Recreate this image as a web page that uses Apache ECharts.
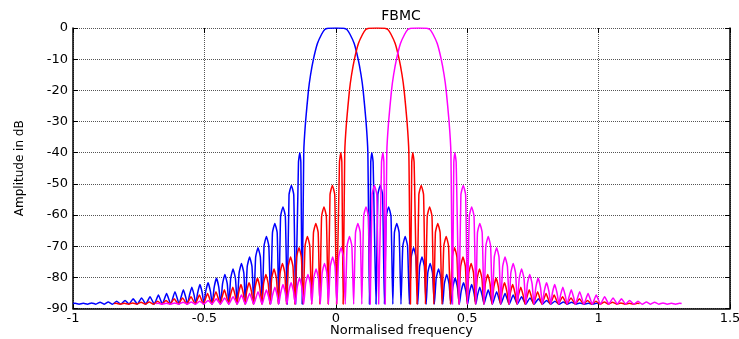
<!DOCTYPE html>
<html>
<head>
<meta charset="utf-8">
<script src="https://cdn.jsdelivr.net/npm/echarts@6/dist/echarts.min.js"></script>
<style>
  html, body { margin: 0; padding: 0; background: #fff; }
  #chart { width: 739px; height: 339px; }
</style>
</head>
<body>
<div id="chart"></div>
<script>
// [normalised frequency, amplitude dB]: dips, shoulders and peaks of each subcarrier
const blueCurve = [
  [-1.000, -88.4], [-0.992, -88.3], [-0.977, -88.6], [-0.961, -88.3], [-0.945, -88.6], [-0.929, -88.2],
  [-0.913, -88.6], [-0.897, -88.0], [-0.882, -88.6], [-0.866, -87.9], [-0.850, -88.6], [-0.834, -87.7],
  [-0.818, -88.6], [-0.802, -87.4], [-0.787, -88.6], [-0.771, -86.9], [-0.755, -88.6], [-0.739, -86.6],
  [-0.723, -88.6], [-0.707, -86.2], [-0.691, -88.6], [-0.675, -85.7], [-0.660, -88.6], [-0.644, -85.2],
  [-0.628, -88.6], [-0.612, -84.6],
  [-0.596, -88.6], [-0.589, -86.4], [-0.580, -84.0], [-0.571, -86.4],
  [-0.564, -88.6], [-0.557, -85.8], [-0.548, -83.2], [-0.539, -85.8],
  [-0.533, -88.6], [-0.526, -85.1], [-0.517, -82.3], [-0.508, -85.1],
  [-0.502, -88.6], [-0.495, -84.5], [-0.486, -81.7], [-0.477, -84.5],
  [-0.470, -88.6], [-0.463, -83.3], [-0.454, -80.3], [-0.445, -83.3],
  [-0.438, -88.6], [-0.431, -82.1], [-0.422, -79.1], [-0.413, -82.1],
  [-0.407, -88.6], [-0.400, -80.3], [-0.391, -77.3], [-0.382, -80.3],
  [-0.375, -88.6], [-0.368, -78.6], [-0.359, -75.6], [-0.350, -78.6],
  [-0.344, -88.6], [-0.337, -76.5], [-0.328, -73.5], [-0.319, -76.5],
  [-0.312, -88.6], [-0.305, -73.5], [-0.296, -70.5], [-0.287, -73.5],
  [-0.280, -88.6], [-0.273, -69.9], [-0.264, -66.9], [-0.255, -69.9],
  [-0.248, -88.6], [-0.241, -65.7], [-0.232, -62.7], [-0.223, -65.7],
  [-0.217, -88.6], [-0.210, -60.4], [-0.201, -57.4], [-0.192, -60.4],
  [-0.185, -88.6], [-0.178, -53.5], [-0.169, -50.5], [-0.160, -53.5],
  [-0.153, -88.6], [-0.142, -43], [-0.137, -40], [-0.133, -43],
  [-0.128, -88.6], [-0.122, -40], [-0.115, -30], [-0.104, -20], [-0.096, -15], [-0.085, -10],
  [-0.070, -5], [-0.054, -2], [-0.042, -0.5], [-0.030, -0.1],
  [0.000, 0],
  [0.030, -0.1], [0.042, -0.5], [0.054, -2], [0.070, -5], [0.085, -10], [0.096, -15],
  [0.104, -20], [0.115, -30], [0.122, -40],
  [0.128, -88.6], [0.133, -43], [0.137, -40], [0.142, -43],
  [0.153, -88.6], [0.160, -53.5], [0.169, -50.5], [0.178, -53.5],
  [0.185, -88.6], [0.192, -60.4], [0.201, -57.4], [0.210, -60.4],
  [0.217, -88.6], [0.223, -65.7], [0.232, -62.7], [0.241, -65.7],
  [0.248, -88.6], [0.255, -69.9], [0.264, -66.9], [0.273, -69.9],
  [0.280, -88.6], [0.287, -73.5], [0.296, -70.5], [0.305, -73.5],
  [0.312, -88.6], [0.319, -76.5], [0.328, -73.5], [0.337, -76.5],
  [0.344, -88.6], [0.350, -78.6], [0.359, -75.6], [0.368, -78.6],
  [0.375, -88.6], [0.382, -80.3], [0.391, -77.3], [0.400, -80.3],
  [0.407, -88.6], [0.413, -82.1], [0.422, -79.1], [0.431, -82.1],
  [0.438, -88.6], [0.445, -83.3], [0.454, -80.3], [0.463, -83.3],
  [0.470, -88.6], [0.477, -84.5], [0.486, -81.7], [0.495, -84.5],
  [0.502, -88.6], [0.508, -85.1], [0.517, -82.3], [0.526, -85.1],
  [0.533, -88.6], [0.539, -85.8], [0.548, -83.2], [0.557, -85.8],
  [0.564, -88.6], [0.571, -86.4], [0.580, -84.0], [0.589, -86.4],
  [0.596, -88.6], [0.612, -84.6], [0.628, -88.6], [0.644, -85.2], [0.660, -88.6], [0.675, -85.7],
  [0.691, -88.6], [0.707, -86.2], [0.723, -88.6], [0.739, -86.6], [0.755, -88.6], [0.771, -86.9],
  [0.787, -88.6], [0.802, -87.4], [0.818, -88.6], [0.834, -87.7], [0.850, -88.6], [0.866, -87.9],
  [0.882, -88.6], [0.897, -88.0], [0.913, -88.6], [0.929, -88.2], [0.945, -88.6], [0.961, -88.3],
  [0.977, -88.6], [0.992, -88.3], [1.000, -88.4]
];

const redCurve = [
  [-0.844, -88.4], [-0.836, -88.3], [-0.821, -88.6], [-0.805, -88.3], [-0.789, -88.6], [-0.773, -88.2],
  [-0.757, -88.6], [-0.741, -88.0], [-0.726, -88.6], [-0.710, -87.9], [-0.694, -88.6], [-0.678, -87.7],
  [-0.662, -88.6], [-0.646, -87.4], [-0.631, -88.6], [-0.615, -86.9], [-0.599, -88.6], [-0.583, -86.6],
  [-0.567, -88.6], [-0.551, -86.2], [-0.535, -88.6], [-0.519, -85.7], [-0.504, -88.6], [-0.488, -85.2],
  [-0.472, -88.6], [-0.456, -84.6],
  [-0.440, -88.6], [-0.433, -86.4], [-0.424, -84.0], [-0.415, -86.4],
  [-0.408, -88.6], [-0.401, -85.8], [-0.392, -83.2], [-0.383, -85.8],
  [-0.377, -88.6], [-0.370, -85.1], [-0.361, -82.3], [-0.352, -85.1],
  [-0.346, -88.6], [-0.339, -84.5], [-0.330, -81.7], [-0.321, -84.5],
  [-0.314, -88.6], [-0.307, -83.3], [-0.298, -80.3], [-0.289, -83.3],
  [-0.282, -88.6], [-0.275, -82.1], [-0.266, -79.1], [-0.257, -82.1],
  [-0.251, -88.6], [-0.244, -80.3], [-0.235, -77.3], [-0.226, -80.3],
  [-0.219, -88.6], [-0.212, -78.6], [-0.203, -75.6], [-0.194, -78.6],
  [-0.188, -88.6], [-0.181, -76.5], [-0.172, -73.5], [-0.163, -76.5],
  [-0.156, -88.6], [-0.149, -73.5], [-0.140, -70.5], [-0.131, -73.5],
  [-0.124, -88.6], [-0.117, -69.9], [-0.108, -66.9], [-0.099, -69.9],
  [-0.092, -88.6], [-0.085, -65.7], [-0.076, -62.7], [-0.067, -65.7],
  [-0.061, -88.6], [-0.054, -60.4], [-0.045, -57.4], [-0.036, -60.4],
  [-0.029, -88.6], [-0.022, -53.5], [-0.013, -50.5], [-0.004, -53.5],
  [0.003, -88.6], [0.014, -43], [0.019, -40], [0.023, -43],
  [0.028, -88.6], [0.034, -40], [0.041, -30], [0.052, -20], [0.060, -15], [0.071, -10],
  [0.086, -5], [0.102, -2], [0.114, -0.5], [0.126, -0.1],
  [0.156, 0],
  [0.186, -0.1], [0.198, -0.5], [0.210, -2], [0.226, -5], [0.241, -10], [0.252, -15],
  [0.260, -20], [0.271, -30], [0.278, -40],
  [0.284, -88.6], [0.289, -43], [0.293, -40], [0.298, -43],
  [0.309, -88.6], [0.316, -53.5], [0.325, -50.5], [0.334, -53.5],
  [0.341, -88.6], [0.348, -60.4], [0.357, -57.4], [0.366, -60.4],
  [0.373, -88.6], [0.379, -65.7], [0.388, -62.7], [0.397, -65.7],
  [0.404, -88.6], [0.411, -69.9], [0.420, -66.9], [0.429, -69.9],
  [0.436, -88.6], [0.443, -73.5], [0.452, -70.5], [0.461, -73.5],
  [0.468, -88.6], [0.475, -76.5], [0.484, -73.5], [0.493, -76.5],
  [0.500, -88.6], [0.506, -78.6], [0.515, -75.6], [0.524, -78.6],
  [0.531, -88.6], [0.538, -80.3], [0.547, -77.3], [0.556, -80.3],
  [0.563, -88.6], [0.569, -82.1], [0.578, -79.1], [0.587, -82.1],
  [0.594, -88.6], [0.601, -83.3], [0.610, -80.3], [0.619, -83.3],
  [0.626, -88.6], [0.633, -84.5], [0.642, -81.7], [0.651, -84.5],
  [0.658, -88.6], [0.664, -85.1], [0.673, -82.3], [0.682, -85.1],
  [0.689, -88.6], [0.695, -85.8], [0.704, -83.2], [0.713, -85.8],
  [0.720, -88.6], [0.727, -86.4], [0.736, -84.0], [0.745, -86.4],
  [0.752, -88.6], [0.768, -84.6], [0.784, -88.6], [0.800, -85.2], [0.816, -88.6], [0.831, -85.7],
  [0.847, -88.6], [0.863, -86.2], [0.879, -88.6], [0.895, -86.6], [0.911, -88.6], [0.927, -86.9],
  [0.943, -88.6], [0.958, -87.4], [0.974, -88.6], [0.990, -87.7], [1.006, -88.6], [1.022, -87.9],
  [1.038, -88.6], [1.053, -88.0], [1.069, -88.6], [1.085, -88.2], [1.101, -88.6], [1.117, -88.3],
  [1.133, -88.6], [1.148, -88.3], [1.156, -88.4]
];

const magentaCurve = [
  [-0.684, -88.4], [-0.676, -88.3], [-0.661, -88.6], [-0.645, -88.3], [-0.629, -88.6], [-0.613, -88.2],
  [-0.597, -88.6], [-0.581, -88.0], [-0.566, -88.6], [-0.550, -87.9], [-0.534, -88.6], [-0.518, -87.7],
  [-0.502, -88.6], [-0.486, -87.4], [-0.471, -88.6], [-0.455, -86.9], [-0.439, -88.6], [-0.423, -86.6],
  [-0.407, -88.6], [-0.391, -86.2], [-0.375, -88.6], [-0.359, -85.7], [-0.344, -88.6], [-0.328, -85.2],
  [-0.312, -88.6], [-0.296, -84.6],
  [-0.280, -88.6], [-0.273, -86.4], [-0.264, -84.0], [-0.255, -86.4],
  [-0.248, -88.6], [-0.241, -85.8], [-0.232, -83.2], [-0.223, -85.8],
  [-0.217, -88.6], [-0.210, -85.1], [-0.201, -82.3], [-0.192, -85.1],
  [-0.186, -88.6], [-0.179, -84.5], [-0.170, -81.7], [-0.161, -84.5],
  [-0.154, -88.6], [-0.147, -83.3], [-0.138, -80.3], [-0.129, -83.3],
  [-0.122, -88.6], [-0.115, -82.1], [-0.106, -79.1], [-0.097, -82.1],
  [-0.091, -88.6], [-0.084, -80.3], [-0.075, -77.3], [-0.066, -80.3],
  [-0.059, -88.6], [-0.052, -78.6], [-0.043, -75.6], [-0.034, -78.6],
  [-0.028, -88.6], [-0.021, -76.5], [-0.012, -73.5], [-0.003, -76.5],
  [0.004, -88.6], [0.011, -73.5], [0.020, -70.5], [0.029, -73.5],
  [0.036, -88.6], [0.043, -69.9], [0.052, -66.9], [0.061, -69.9],
  [0.068, -88.6], [0.075, -65.7], [0.084, -62.7], [0.093, -65.7],
  [0.099, -88.6], [0.106, -60.4], [0.115, -57.4], [0.124, -60.4],
  [0.131, -88.6], [0.138, -53.5], [0.147, -50.5], [0.156, -53.5],
  [0.163, -88.6], [0.174, -43], [0.179, -40], [0.183, -43],
  [0.188, -88.6], [0.194, -40], [0.201, -30], [0.212, -20], [0.220, -15], [0.231, -10],
  [0.246, -5], [0.262, -2], [0.274, -0.5], [0.286, -0.1],
  [0.316, 0],
  [0.346, -0.1], [0.358, -0.5], [0.370, -2], [0.386, -5], [0.401, -10], [0.412, -15],
  [0.420, -20], [0.431, -30], [0.438, -40],
  [0.444, -88.6], [0.449, -43], [0.453, -40], [0.458, -43],
  [0.469, -88.6], [0.476, -53.5], [0.485, -50.5], [0.494, -53.5],
  [0.501, -88.6], [0.508, -60.4], [0.517, -57.4], [0.526, -60.4],
  [0.533, -88.6], [0.539, -65.7], [0.548, -62.7], [0.557, -65.7],
  [0.564, -88.6], [0.571, -69.9], [0.580, -66.9], [0.589, -69.9],
  [0.596, -88.6], [0.603, -73.5], [0.612, -70.5], [0.621, -73.5],
  [0.628, -88.6], [0.635, -76.5], [0.644, -73.5], [0.653, -76.5],
  [0.660, -88.6], [0.666, -78.6], [0.675, -75.6], [0.684, -78.6],
  [0.691, -88.6], [0.698, -80.3], [0.707, -77.3], [0.716, -80.3],
  [0.723, -88.6], [0.729, -82.1], [0.738, -79.1], [0.747, -82.1],
  [0.754, -88.6], [0.761, -83.3], [0.770, -80.3], [0.779, -83.3],
  [0.786, -88.6], [0.793, -84.5], [0.802, -81.7], [0.811, -84.5],
  [0.818, -88.6], [0.824, -85.1], [0.833, -82.3], [0.842, -85.1],
  [0.849, -88.6], [0.855, -85.8], [0.864, -83.2], [0.873, -85.8],
  [0.880, -88.6], [0.887, -86.4], [0.896, -84.0], [0.905, -86.4],
  [0.912, -88.6], [0.928, -84.6], [0.944, -88.6], [0.960, -85.2], [0.976, -88.6], [0.991, -85.7],
  [1.007, -88.6], [1.023, -86.2], [1.039, -88.6], [1.055, -86.6], [1.071, -88.6], [1.087, -86.9],
  [1.103, -88.6], [1.118, -87.4], [1.134, -88.6], [1.150, -87.7], [1.166, -88.6], [1.182, -87.9],
  [1.198, -88.6], [1.213, -88.0], [1.229, -88.6], [1.245, -88.2], [1.261, -88.6], [1.277, -88.3],
  [1.293, -88.6], [1.308, -88.3], [1.316, -88.4]
];

const freqRange = [-1, 1.5];
const dbRange = [-90, 0];

const chart = echarts.init(document.getElementById('chart'), null, { renderer: 'canvas' });

const font = 'DejaVu Sans';
const gridLine = { show: true, lineStyle: { color: '#555', type: 'dotted', width: 1 } };
const tick = { inside: true, length: 5, lineStyle: { color: '#000' } };

function line(name, data, color) {
  return {
    name: name,
    type: 'line',
    data: data,
    showSymbol: false,
    smooth: 0.15,
    lineStyle: { color: color, width: 1.5 },
    itemStyle: { color: color },
    emphasis: { disabled: true },
  };
}

chart.setOption({
  animation: false,
  backgroundColor: '#fff',
  title: {
    text: 'FBMC',
    left: 401,
    top: 9,
    textAlign: 'center',
    padding: 0,
    textStyle: { fontFamily: font, fontSize: 14, fontWeight: 'normal', color: '#000' },
  },
  grid: { left: 73, right: 9, top: 28, bottom: 30.5, containLabel: false, outerBoundsMode: 'none' },
  xAxis: [{
    type: 'value',
    min: freqRange[0],
    max: freqRange[1],
    interval: 0.5,
    name: 'Normalised frequency',
    nameLocation: 'middle',
    nameGap: 16,
    nameMoveOverlap: false,
    nameTextStyle: { fontFamily: font, fontSize: 13, color: '#000' },
    axisLine: { onZero: false, lineStyle: { color: '#000', width: 1.5 } },
    axisTick: tick,
    axisLabel: { fontFamily: font, fontSize: 13, color: '#000', margin: 4 },
    splitLine: gridLine,
  }, {
    type: 'value',
    position: 'top',
    min: freqRange[0],
    max: freqRange[1],
    interval: 0.5,
    axisLine: { show: false, onZero: false },
    axisTick: tick,
    axisLabel: { show: false },
    splitLine: { show: false },
  }],
  yAxis: [{
    type: 'value',
    min: dbRange[0],
    max: dbRange[1],
    interval: 10,
    name: 'Amplitude in dB',
    nameLocation: 'middle',
    nameGap: 47,
    nameTextStyle: { fontFamily: font, fontSize: 12, color: '#000' },
    axisLine: { onZero: false, lineStyle: { color: '#000', width: 1.5 } },
    axisTick: tick,
    axisLabel: { fontFamily: font, fontSize: 13, color: '#000', margin: 5 },
    splitLine: gridLine,
  }, {
    type: 'value',
    position: 'right',
    min: dbRange[0],
    max: dbRange[1],
    interval: 10,
    axisLine: { show: true, onZero: false, lineStyle: { color: '#000', width: 1.5 } },
    axisTick: tick,
    axisLabel: { show: false },
    splitLine: { show: false },
  }],
  series: [
    line('blue', blueCurve, '#0000ff'),
    line('red', redCurve, '#ff0000'),
    line('magenta', magentaCurve, '#ff00ff'),
  ],
});
</script>
</body>
</html>
